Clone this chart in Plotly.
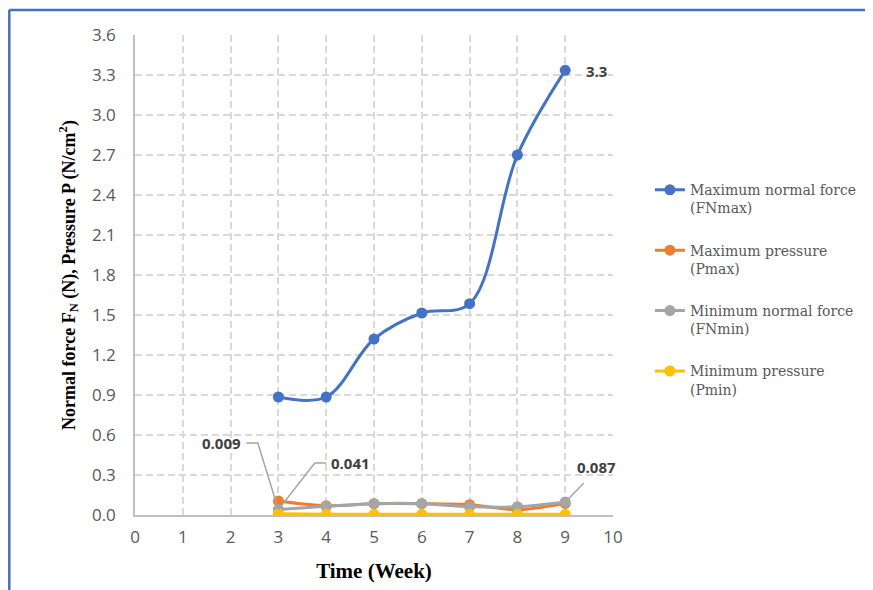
import plotly.graph_objects as go

weeks = [3, 4, 5, 6, 7, 8, 9]
fn_max = [0.885, 0.885, 1.32, 1.515, 1.585, 2.70, 3.335]
p_max = [0.105, 0.07, 0.085, 0.085, 0.077, 0.04, 0.087]
fn_min = [0.041, 0.065, 0.085, 0.085, 0.062, 0.062, 0.098]
p_min = [0.009, 0.005, 0.005, 0.005, 0.005, 0.005, 0.005]

names = ["Maximum normal force<br>(FNmax)", "Maximum pressure<br>(Pmax)",
         "Minimum normal force<br>(FNmin)", "Minimum pressure<br>(Pmin)"]
colors = ["#4472C4", "#ED7D31", "#A5A5A5", "#FFC000"]
series = [fn_max, p_max, fn_min, p_min]

x_ticks = list(range(0, 11))
y_ticks = [round(0.3 * i, 1) for i in range(13)]

fig = go.Figure()
for i, (nm, col, ys) in enumerate(zip(names, colors, series)):
    fig.add_trace(go.Scatter(
        x=weeks, y=ys, name=nm, mode="lines+markers",
        line=dict(color=col, width=3, shape="spline", smoothing=1.0),
        marker=dict(color=col, size=11),
        legendgroup=str(i),
    ))

label_font = dict(family="Open Sans", size=15, color="#404040")
# data labels
fig.add_annotation(x=9.65, y=3.33, text="<b>3.3</b>", showarrow=False, font=label_font, xref="x", yref="y")
fig.add_annotation(x=1.8, y=0.54, text="<b>0.009</b>", showarrow=False, font=label_font)
fig.add_annotation(x=4.5, y=0.39, text="<b>0.041</b>", showarrow=False, font=label_font)
fig.add_annotation(x=9.65, y=0.36, text="<b>0.087</b>", showarrow=False, font=label_font)

lead = dict(color="#A5A5A5", width=1.5)
fig.add_shape(type="path", path="M 2.33,0.54 L 2.57,0.54 L 3.0,0.04", line=lead, xref="x", yref="y")
fig.add_shape(type="path", path="M 4.0,0.39 L 3.76,0.39 L 3.0,0.04", line=lead, xref="x", yref="y")
fig.add_shape(type="path", path="M 9.0,0.095 L 9.39,0.24", line=lead, xref="x", yref="y")

# outer frame (top and left edges)
border = dict(color="#4472C4", width=2.5)
fig.add_shape(type="line", xref="paper", yref="paper", x0=-0.263, x1=1.6, y0=1.052, y1=1.052, line=border)
fig.add_shape(type="line", xref="paper", yref="paper", x0=-0.263, x1=-0.263, y0=1.052, y1=-0.2, line=border)

grid = dict(showgrid=True, gridcolor="#D9D9D9", gridwidth=1.5, griddash="7px,4px")
fig.update_xaxes(range=[0, 10], tickvals=x_ticks, ticktext=[str(t) for t in x_ticks],
                 showline=True, linecolor="#BFBFBF", linewidth=1.5, zeroline=False,
                 ticks="outside", ticklen=6, tickcolor="rgba(0,0,0,0)",
                 tickfont=dict(family="Open Sans", size=17, color="#595959"),
                 title=dict(text="<b>Time (Week)</b>", font=dict(family="Liberation Serif", size=21, color="#000000"), standoff=16),
                 **grid)
fig.update_yaxes(range=[0, 3.6], tickvals=y_ticks, ticktext=[f"{t:.1f}" for t in y_ticks],
                 showline=True, linecolor="#BFBFBF", linewidth=1.5, zeroline=False,
                 ticks="outside", ticklen=14, tickcolor="rgba(0,0,0,0)",
                 tickfont=dict(family="Open Sans", size=17, color="#595959"),
                 title=dict(text="<b>Normal force F<sub>N</sub> (N), Pressure P (N/cm<sup>2</sup>)</b>",
                            font=dict(family="Liberation Serif", size=18, color="#000000"), standoff=12),
                 **grid)

fig.update_layout(
    width=865, height=582,
    margin=dict(l=127, r=259, t=27, b=75),
    paper_bgcolor="white", plot_bgcolor="white",
    legend=dict(x=1.075, y=0.71, xanchor="left", yanchor="top", valign="top",
                font=dict(family="DejaVu Serif", size=14, color="#595959"),
                tracegroupgap=21, bgcolor="rgba(0,0,0,0)"),
    showlegend=True,
)
fig.write_html("out.html")
